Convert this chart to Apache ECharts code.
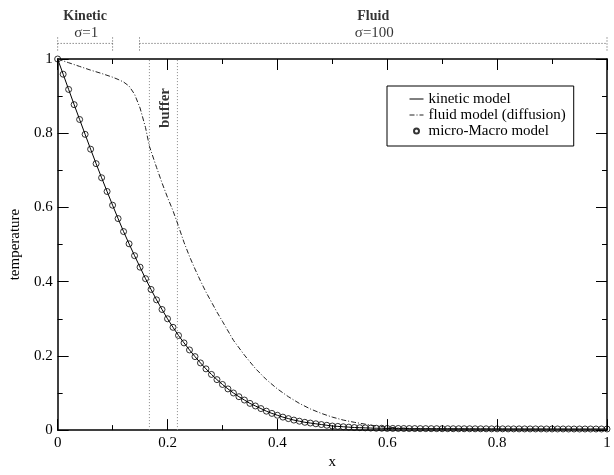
<!DOCTYPE html>
<html><head><meta charset="utf-8">
<script src="https://cdn.jsdelivr.net/npm/echarts@6/dist/echarts.min.js"></script>
<style>html,body{margin:0;padding:0;background:#fff}#c{width:614px;height:475px}</style>
</head><body><div id="c"></div>
<script>
// ---- data ----
const xGrid = [0,0.01,0.02,0.03,0.04,0.05,0.06,0.07,0.08,0.09,
  0.10,0.11,0.12,0.13,0.14,0.15,0.16,0.17,0.18,0.19,
  0.20,0.21,0.22,0.23,0.24,0.25,0.26,0.27,0.28,0.29,
  0.30,0.31,0.32,0.33,0.34,0.35,0.36,0.37,0.38,0.39,
  0.40,0.41,0.42,0.43,0.44,0.45,0.46,0.47,0.48,0.49,
  0.50,0.51,0.52,0.53,0.54,0.55,0.56,0.57,0.58,0.59,
  0.60,0.61,0.62,0.63,0.64,0.65,0.66,0.67,0.68,0.69,
  0.70,0.71,0.72,0.73,0.74,0.75,0.76,0.77,0.78,0.79,
  0.80,0.81,0.82,0.83,0.84,0.85,0.86,0.87,0.88,0.89,
  0.90,0.91,0.92,0.93,0.94,0.95,0.96,0.97,0.98,0.99,1.00];
const kineticT = [1.000,0.959,0.918,0.877,0.837,0.797,0.757,0.718,0.680,0.643,
  0.606,0.570,0.535,0.502,0.470,0.439,0.408,0.379,0.351,0.325,
  0.300,0.277,0.255,0.235,0.216,0.198,0.181,0.165,0.150,0.136,
  0.123,0.111,0.100,0.090,0.081,0.072,0.065,0.058,0.051,0.045,
  0.040,0.035,0.031,0.027,0.024,0.021,0.019,0.017,0.015,0.013,
  0.011,0.010,0.009,0.008,0.007,0.0065,0.006,0.0055,0.005,0.005,
  0.0045,0.0045,0.0044,0.0043,0.0042,0.0041,0.004,0.004,0.0039,0.0039,
  0.0038,0.0038,0.0037,0.0037,0.0036,0.0036,0.0035,0.0035,0.0035,0.0034,
  0.0034,0.0034,0.0033,0.0033,0.0033,0.0032,0.0032,0.0032,0.0032,0.0031,
  0.0031,0.0031,0.0031,0.003,0.003,0.003,0.003,0.003,0.003,0.003,0.003];
const microMacroT = [1.000,0.959,0.918,0.877,0.837,0.797,0.757,0.718,0.680,0.643,
  0.606,0.570,0.535,0.502,0.470,0.439,0.408,0.379,0.351,0.325,
  0.300,0.277,0.255,0.235,0.216,0.198,0.181,0.165,0.150,0.136,
  0.123,0.111,0.100,0.090,0.081,0.072,0.065,0.058,0.051,0.045,
  0.040,0.035,0.031,0.027,0.024,0.021,0.019,0.017,0.015,0.013,
  0.011,0.010,0.009,0.008,0.007,0.0065,0.006,0.0055,0.005,0.005,
  0.0045,0.0045,0.0044,0.0043,0.0042,0.0041,0.004,0.004,0.0039,0.0039,
  0.0038,0.0038,0.0037,0.0037,0.0036,0.0036,0.0035,0.0035,0.0035,0.0034,
  0.0034,0.0034,0.0033,0.0033,0.0033,0.0032,0.0032,0.0032,0.0032,0.0031,
  0.0031,0.0031,0.0031,0.003,0.003,0.003,0.003,0.003,0.003,0.003,0.003];
const fluidX = [0,0.02,0.04,0.06,0.08,0.10,0.11,0.12,0.13,0.14,0.15,0.16,0.167,
  0.18,0.19,0.20,0.21,0.218,0.23,0.24,0.25,0.26,0.27,0.28,0.29,0.30,
  0.32,0.34,0.36,0.38,0.40,0.42,0.44,0.46,0.48,0.50,0.52,0.54,0.56,0.58,0.60,
  0.62,0.65,0.70,0.80,1.00];
const fluidT = [1.000,0.990,0.980,0.970,0.961,0.951,0.945,0.938,0.927,0.905,0.868,0.815,0.765,
  0.708,0.666,0.627,0.591,0.558,0.506,0.468,0.434,0.402,0.372,0.345,0.318,0.293,
  0.242,0.202,0.166,0.136,0.111,0.090,0.072,0.057,0.045,0.035,0.027,0.021,0.016,0.011,0.008,
  0.006,0.004,0.003,0.002,0.002];
const bufferX = [0.167, 0.218];
const regions = [
  {name: 'Kinetic', sigma: 'σ=1', from: 0, to: 0.1},
  {name: 'Fluid', sigma: 'σ=100', from: 0.149, to: 1}
];
const seriesNames = ['kinetic model', 'fluid model (diffusion)', 'micro-Macro model'];

// ---- layout / style ----
const FONT = 'Liberation Serif';
const zip = (xs, ys) => xs.map((x, i) => [x, ys[i]]);
const BR_LINE = 1.042, BR_TOP = 1.058, BR_BOT = 1.019;

const series = [];
series.push({
  name: seriesNames[2], type: 'scatter', data: zip(xGrid, microMacroT),
  symbol: 'circle', symbolSize: 6, z: 2, silent: true,
  itemStyle: {color: 'rgba(255,255,255,0)', borderColor: '#000', borderWidth: 1}
});
series.push({
  name: seriesNames[0], type: 'line', data: zip(xGrid, kineticT),
  symbol: 'none', z: 3, silent: true,
  itemStyle: {color: '#000'},
  lineStyle: {color: '#000', width: 1}
});
series.push({
  name: seriesNames[1], type: 'line', data: zip(fluidX, fluidT),
  symbol: 'none', z: 3, silent: true,
  itemStyle: {color: '#222'},
  lineStyle: {color: '#222', width: 1, type: [5, 2, 1, 2]}
});
bufferX.forEach(bx => series.push({
  type: 'line', data: [[bx, 0], [bx, 1]], symbol: 'none', silent: true, z: 1,
  lineStyle: {color: '#888', width: 1, type: [1, 2]}
}));
const brStyle = {color: '#555', width: 1, type: [1, 2]};
regions.forEach(r => {
  [[[r.from, BR_TOP], [r.from, BR_BOT]], [[r.from, BR_LINE], [r.to, BR_LINE]], [[r.to, BR_TOP], [r.to, BR_BOT]]]
    .forEach(seg => series.push({type: 'line', data: seg, symbol: 'none', clip: false, silent: true, lineStyle: brStyle}));
});
const annot = [];
regions.forEach(r => {
  const cx = (r.from + r.to) / 2;
  annot.push({name: r.name, value: [cx, 1.116], label: {fontWeight: 'bold', fontSize: 14}});
  annot.push({name: r.sigma, value: [cx + 0.002, 1.070], label: {fontSize: 15}});
});
annot.push({name: 'buffer', value: [0.196, 0.868], label: {fontWeight: 'bold', fontSize: 15, rotate: 90}});
series.push({
  type: 'scatter', data: annot, symbolSize: 0, clip: false, silent: true,
  label: {show: true, position: 'inside', formatter: p => p.name, color: '#000', fontFamily: FONT}
});

const axisCommon = {
  type: 'value', min: 0, max: 1, interval: 0.2,
  axisLine: {show: true, onZero: false, lineStyle: {color: '#000', width: 1.5}},
  axisTick: {show: true, inside: true, length: 11, lineStyle: {color: '#000', width: 1}},
  minorTick: {show: true, splitNumber: 2, length: 5, lineStyle: {color: '#000', width: 1}},
  splitLine: {show: false}, minorSplitLine: {show: false},
  axisLabel: {color: '#000', fontSize: 15, fontFamily: FONT, margin: 5},
  nameTextStyle: {color: '#000', fontSize: 15, fontFamily: FONT}
};
const chart = echarts.init(document.getElementById('c'), null, {renderer: 'canvas'});
chart.setOption({
  animation: false,
  backgroundColor: '#fff',
  grid: {left: 57, right: 7, top: 59, bottom: 31, containLabel: false},
  legend: {
    data: [
      {name: seriesNames[0], itemStyle: {opacity: 0}, lineStyle: {width: 1}},
      {name: seriesNames[1], itemStyle: {opacity: 0}, lineStyle: {width: 1}},
      {name: seriesNames[2], icon: 'circle'}
    ],
    orient: 'vertical', left: 387, top: 86,
    padding: [5, 8, 7, 22], itemGap: 0, itemWidth: 14, itemHeight: 5,
    borderColor: '#000', borderWidth: 1, borderRadius: 0,
    selectedMode: false,
    textStyle: {color: '#000', fontSize: 15, fontFamily: FONT, lineHeight: 16}
  },
  xAxis: [
    Object.assign({}, axisCommon, {position: 'bottom', name: 'x', nameLocation: 'middle', nameGap: 15}),
    Object.assign({}, axisCommon, {position: 'top', axisLabel: {show: false}})
  ],
  yAxis: [
    Object.assign({}, axisCommon, {position: 'left', name: 'temperature', nameLocation: 'middle', nameGap: 22}),
    Object.assign({}, axisCommon, {position: 'right', axisLabel: {show: false}})
  ],
  series: series
});
</script></body></html>
